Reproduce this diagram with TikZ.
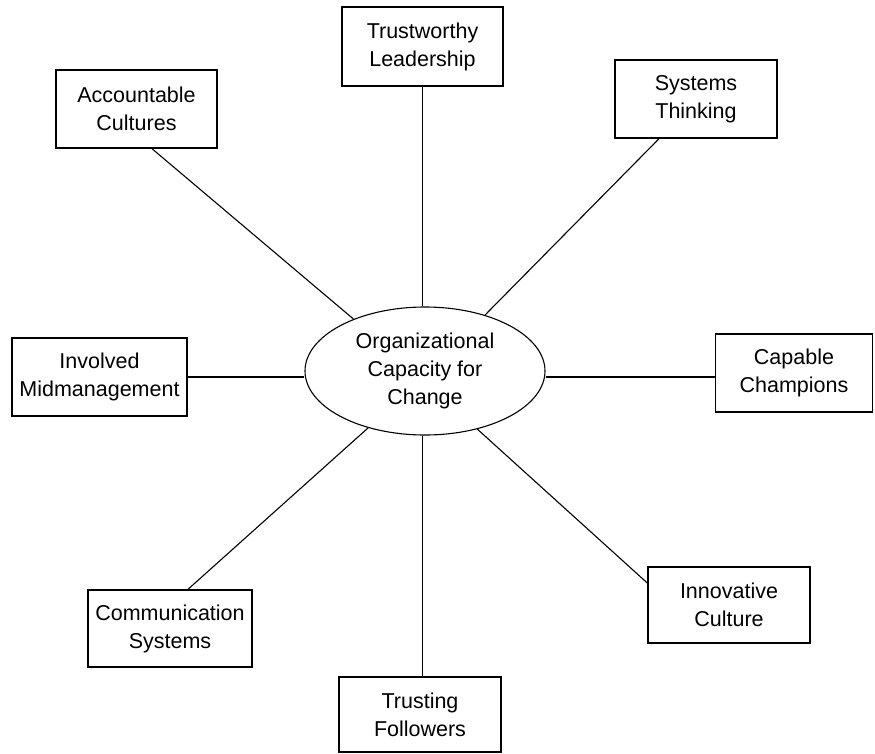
\documentclass[tikz,border=0pt]{standalone}
\usepackage{fontspec}
\setmainfont{Liberation Sans}
\usetikzlibrary{shapes.geometric,calc}
\begin{document}
\begin{tikzpicture}[x=1pt,y=-1pt,
  every node/.style={font=\fontsize{21.5}{28}\selectfont, align=center, inner sep=0pt},
  boxnode/.style={draw, line width=1.4pt, rectangle},
  hub/.style={draw, line width=1.1pt, ellipse, minimum width=240pt, minimum height=128pt},
  link/.style={line width=1.1pt}]
\useasboundingbox (0,0) rectangle (875,753);
\node[hub] (ell) at (425,371) {Organizational\\Capacity for\\Change};
\node[boxnode, minimum width=161pt, minimum height=79pt] (trust) at (422.5,46.5) {Trustworthy\\Leadership};
\node[boxnode, minimum width=161pt, minimum height=78pt] (acc) at (136.5,109) {Accountable\\Cultures};
\node[boxnode, minimum width=162pt, minimum height=78pt] (sys) at (696,99) {Systems\\Thinking};
\node[boxnode, minimum width=175pt, minimum height=78pt] (inv) at (99.5,377) {Involved\\Midmanagement};
\node[boxnode, minimum width=157pt, minimum height=78pt] (cap) at (794,373) {Capable\\Champions};
\node[boxnode, minimum width=164pt, minimum height=77pt] (comm) at (170,628.5) {Communication\\Systems};
\node[boxnode, minimum width=162pt, minimum height=76pt] (innov) at (729,605) {Innovative\\Culture};
\node[boxnode, minimum width=162pt, minimum height=75pt] (trusting) at (420,714.5) {Trusting\\Followers};
\coordinate (tf) at ($(trusting.north)+(2.5,0)$);
\draw[link] (trust.south) -- (trust.south |- ell.north);
\draw[link] (tf) -- (tf |- ell.south);
\draw[link] (inv.east) -- (inv.east -| ell.west);
\draw[link] (inv.east -| cap.west) -- (inv.east -| ell.east);
\draw[link] ($(acc.south)+(15.5,0)$) -- (ell.144.7);
\draw[link] ($(sys.south)+(-37,0)$) -- (ell.43.5);
\draw[link] ($(comm.north)+(18,0)$) -- (ell.225.5);
\draw[link] ($(innov.west)+(0,-22)$) -- (ell.312);
\end{tikzpicture}
\end{document}
